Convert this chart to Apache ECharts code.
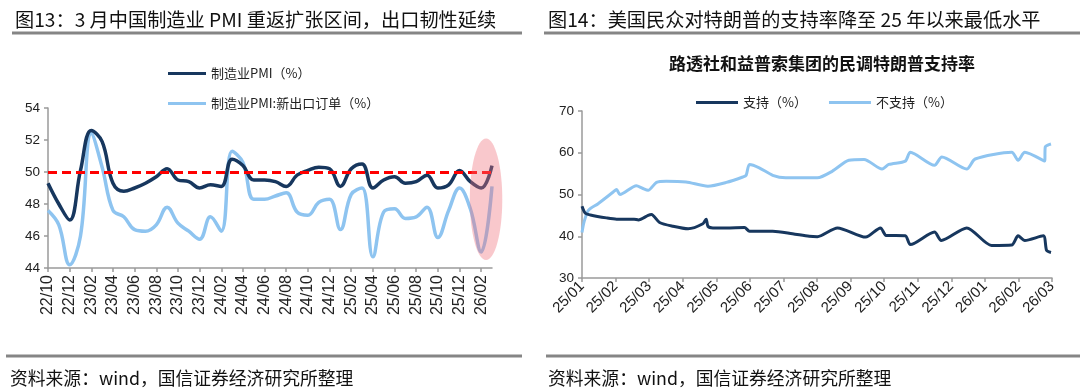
<!DOCTYPE html>
<html><head><meta charset="utf-8">
<script src="https://cdn.jsdelivr.net/npm/echarts@6/dist/echarts.min.js"></script>
<style>html,body{margin:0;padding:0;background:#fff}#c{width:1080px;height:391px}</style>
</head><body><div id="c"></div>
<script>
// ---------- data ----------
const pmiMonths = ['22/10','22/11','22/12','23/01','23/02','23/03','23/04','23/05','23/06','23/07','23/08','23/09','23/10','23/11','23/12',
  '24/01','24/02','24/03','24/04','24/05','24/06','24/07','24/08','24/09','24/10','24/11','24/12',
  '25/01','25/02','25/03','25/04','25/05','25/06','25/07','25/08','25/09','25/10','25/11','25/12',
  '26/01','26/02','26/03'];
const pmi = [49.3,48.0,47.0,50.1,52.6,51.9,49.3,48.8,49.0,49.3,49.7,50.2,49.5,49.4,49.0,
  49.2,49.1,50.8,50.4,49.5,49.5,49.4,49.1,49.8,50.1,50.3,50.2,
  49.1,50.2,50.5,49.0,49.5,49.7,49.3,49.4,49.8,49.0,49.2,50.1,
  49.4,49.0,50.4];
const exportOrders = [47.6,46.7,44.2,46.0,52.4,50.3,47.6,47.2,46.4,46.3,46.7,47.8,46.8,46.3,45.8,
  47.2,46.3,51.3,50.6,48.3,48.3,48.5,48.7,47.5,47.3,48.1,48.3,
  46.4,48.6,49.0,44.7,47.5,47.7,47.1,47.2,47.8,45.9,47.6,49.0,
  47.7,45.0,49.1];
const expansionLine = 50;
const pmiNames = ['制造业PMI（%）','制造业PMI:新出口订单（%）'];

const pollTickLabels = ['25/01','25/02','25/03','25/04','25/05','25/06','25/07','25/08','25/09','25/10','25/11','25/12','26/01','26/02','26/03'];
// [month offset from 25/01, value]
const support = [[0,47.2],[0.1,45.5],[0.25,45.1],[0.73,44.4],[1.03,44.1],[1.55,44.1],[1.68,43.9],[1.97,45.0],[2.07,45.2],[2.31,43.3],[2.71,42.4],[3.16,41.8],[3.6,43.0],[3.7,44.1],[3.75,42.4],[3.9,42.0],[4.3,42.0],[4.84,42.1],[4.99,41.2],[5.68,41.2],[6.27,40.6],[6.77,40.0],[7.01,39.9],[7.61,42.0],[8.45,39.8],[8.89,42.0],[9.06,40.2],[9.63,40.1],[9.78,38.0],[10.5,41.0],[10.7,39.0],[11.46,42.0],[12.2,37.8],[12.8,37.9],[12.99,40.1],[13.19,39.0],[13.74,40.1],[13.84,36.6],[13.97,36.1]];
const oppose = [[0,40.9],[0.06,43.4],[0.19,46.2],[0.48,47.8],[0.93,50.6],[1.03,51.2],[1.13,50.0],[1.62,52.1],[1.8,51.5],[1.97,51.0],[2.22,52.9],[2.51,53.2],[3.1,53.0],[3.75,52.0],[4.3,52.9],[4.79,54.2],[4.89,54.6],[4.99,57.2],[5.28,56.4],[5.68,54.6],[6.07,54.0],[7.01,54.0],[7.46,55.6],[7.95,58.2],[8.4,58.4],[8.94,56.1],[9.14,57.2],[9.63,58.0],[9.78,60.1],[10.5,57.0],[10.72,59.0],[11.46,56.1],[11.71,58.5],[12.8,60.1],[12.99,58.2],[13.19,60.1],[13.78,58.0],[13.8,61.4],[13.97,62.1]];
const pollNames = ['支持（%）','不支持（%）'];

const leftTitle = '图13：3 月中国制造业 PMI 重返扩张区间，出口韧性延续';
const rightTitle = '图14：美国民众对特朗普的支持率降至 25 年以来最低水平';
const rightSubtitle = '路透社和益普索集团的民调特朗普支持率';
const sourceText = '资料来源：wind，国信证券经济研究所整理';

// ---------- chart ----------
const DARK = '#17375E', LIGHT = '#8EC4F0';
const CJK = '"Noto Sans CJK SC", sans-serif';
const NUM = '"Liberation Sans", Arial, sans-serif';
const axisLineStyle = {color:'#9a9a9a', width:1.5};
const chart = echarts.init(document.getElementById('c'), null, {renderer:'canvas'});

const titleStyle = {fontSize:19.2, fontWeight:'normal', color:'#111', fontFamily:CJK};
const footStyle = {fontSize:17.8, fontWeight:'normal', color:'#111', fontFamily:CJK};

const option = {
  animation:false,
  backgroundColor:'#fff',
  title:[
    {text:leftTitle, left:10, top:5, textStyle:titleStyle},
    {text:rightTitle, left:543, top:5, textStyle:titleStyle},
    {text:rightSubtitle, left:664, top:50, textStyle:{fontSize:17, fontWeight:'bold', color:'#111', fontFamily:CJK}},
    {text:sourceText, left:5, top:364, textStyle:footStyle},
    {text:sourceText, left:543, top:364, textStyle:footStyle}
  ],
  legend:[
    {data:pmiNames, orient:'vertical', left:163, top:62, itemGap:17, itemWidth:38, itemHeight:3, icon:'rect',
     textStyle:{fontSize:13, color:'#222', fontFamily:CJK}, selectedMode:false},
    {data:pollNames, orient:'horizontal', left:691, top:91, itemGap:22, itemWidth:42, itemHeight:3, icon:'rect',
     textStyle:{fontSize:13, color:'#222', fontFamily:CJK}, selectedMode:false}
  ],
  grid:[
    {left:48, top:108, width:444, height:160},
    {left:582, top:111, width:470, height:167}
  ],
  xAxis:[
    {gridIndex:0, type:'category', data:pmiMonths, boundaryGap:false,
     axisLine:{lineStyle:axisLineStyle}, axisTick:{interval:1, length:4, lineStyle:axisLineStyle},
     axisLabel:{interval:1, rotate:90, fontSize:16, color:'#222', fontFamily:NUM, margin:7}},
    {gridIndex:1, type:'value', min:0, max:14, interval:1,
     axisLine:{lineStyle:axisLineStyle}, axisTick:{length:4, lineStyle:axisLineStyle}, splitLine:{show:false},
     axisLabel:{rotate:45, fontSize:15, color:'#222', fontFamily:NUM, margin:6,
       formatter:(v)=>pollTickLabels[Math.round(v)] || ''}}
  ],
  yAxis:[
    {gridIndex:0, type:'value', min:44, max:54, interval:2,
     axisLine:{show:true, lineStyle:axisLineStyle}, axisTick:{show:true, length:4, lineStyle:axisLineStyle},
     splitLine:{show:false}, axisLabel:{fontSize:13.5, color:'#222', fontFamily:NUM, margin:8}},
    {gridIndex:1, type:'value', min:30, max:70, interval:10,
     axisLine:{show:true, lineStyle:axisLineStyle}, axisTick:{show:true, length:4, lineStyle:axisLineStyle},
     splitLine:{show:false}, axisLabel:{fontSize:13.5, color:'#222', fontFamily:NUM, margin:8}}
  ],
  series:[
    {name:pmiNames[0], type:'line', xAxisIndex:0, yAxisIndex:0, data:pmi, smooth:0.4, showSymbol:false,
     lineStyle:{color:DARK, width:3.5}, itemStyle:{color:DARK}, z:4,
     markLine:{silent:true, symbol:'none', label:{show:false}, data:[{yAxis:expansionLine}],
       lineStyle:{color:'#FF0000', type:[9,5], width:3}}},
    {name:pmiNames[1], type:'line', xAxisIndex:0, yAxisIndex:0, data:exportOrders, smooth:0.4, showSymbol:false,
     lineStyle:{color:LIGHT, width:3.5}, itemStyle:{color:LIGHT}, z:3},
    {name:pollNames[0], type:'line', xAxisIndex:1, yAxisIndex:1, data:support, smooth:0.25, showSymbol:false,
     lineStyle:{color:DARK, width:3}, itemStyle:{color:DARK}, z:4},
    {name:pollNames[1], type:'line', xAxisIndex:1, yAxisIndex:1, data:oppose, smooth:0.25, showSymbol:false,
     lineStyle:{color:LIGHT, width:3}, itemStyle:{color:LIGHT}, z:3}
  ]
};
chart.setOption(option);

// decorative rules + highlight ellipse positioned from the axes
const p1 = chart.convertToPixel({xAxisIndex:0, yAxisIndex:0}, ['26/02', 52.1]);
const p2 = chart.convertToPixel({xAxisIndex:0, yAxisIndex:0}, ['26/03', 44.5]);
const step = p2[0]-p1[0];
const cx = p1[0] + step*0.45, cy = (p1[1]+p2[1])/2, ry = (p2[1]-p1[1])/2, rx = step*1.5;
const ruleStyle = {stroke:'#858585', lineWidth:3};
chart.setOption({graphic:[
  {type:'line', shape:{x1:12, y1:33, x2:522, y2:33}, style:ruleStyle, silent:true},
  {type:'line', shape:{x1:544, y1:33, x2:1080, y2:33}, style:ruleStyle, silent:true},
  {type:'line', shape:{x1:6, y1:356, x2:522, y2:356}, style:ruleStyle, silent:true},
  {type:'line', shape:{x1:546, y1:356, x2:1080, y2:356}, style:ruleStyle, silent:true},
  {type:'ellipse', shape:{cx:cx, cy:cy, rx:rx, ry:ry}, style:{fill:'rgba(238,110,120,0.38)'}, z:100, silent:true}
]});
</script></body></html>
